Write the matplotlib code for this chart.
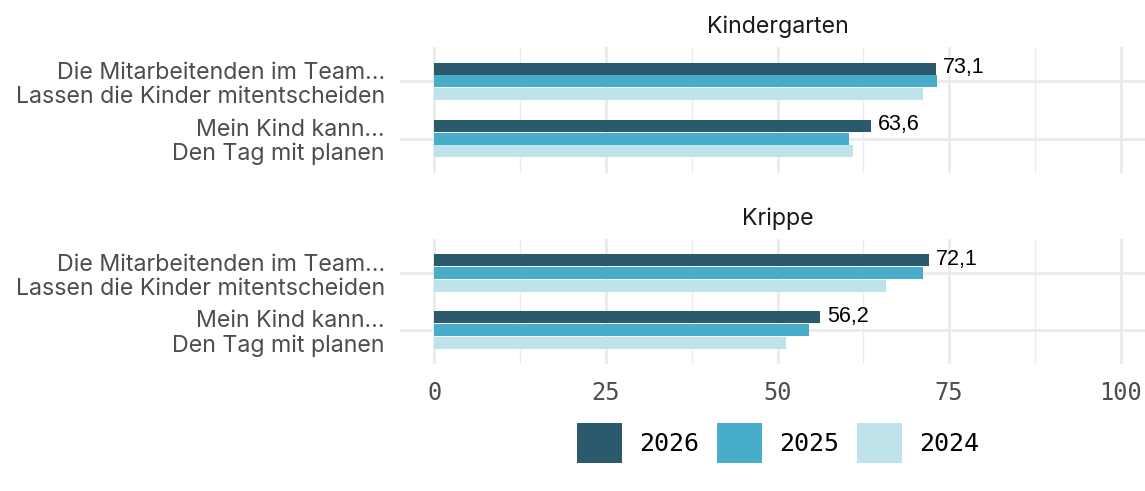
import matplotlib
matplotlib.use('Agg')
import matplotlib.pyplot as plt
from matplotlib.patches import Patch
import numpy as np

# Data
panels = ['Kindergarten', 'Krippe']
questions = ['Die Mitarbeitenden im Team…\nLassen die Kinder mitentscheiden',
             'Mein Kind kann…\nDen Tag mit planen']
years = ['2026', '2025', '2024']
values = {
    'Kindergarten': {'2026': [73.1, 63.6], '2025': [73.3, 60.4], '2024': [71.2, 61.0]},
    'Krippe':       {'2026': [72.1, 56.2], '2025': [71.2, 54.6], '2024': [65.8, 51.2]},
}
colors = {'2026': '#2B5A6D', '2025': '#48ACCB', '2024': '#BEE3EA'}
xticks = [0, 25, 50, 75, 100]

W, H = 1145, 491
fig = plt.figure(figsize=(W / 100, H / 100), dpi=100)

grid_col = '#EBEBEB'
label_font = 'Inter'
mono_font = 'DejaVu Sans Mono'

# panel boxes in pixels: (top, bottom)
boxes = [(47, 173), (239, 364)]
left_px, right_px = 400, 1155

ypos = np.array([1, 0])  # first question on top
bar_h = 0.212
step = 0.223
offsets = {'2026': step, '2025': 0.0, '2024': -step}

for panel, (top, bot) in zip(panels, boxes):
    ax = fig.add_axes([left_px / W, (H - bot) / H, (right_px - left_px) / W, (bot - top) / H])
    for yr in years:
        ax.barh(ypos + offsets[yr], values[panel][yr], height=bar_h,
                color=colors[yr], linewidth=0, zorder=3)
    # labels for the newest year
    for y, v in zip(ypos, values[panel]['2026']):
        ax.text(v + 1.0, y + offsets['2026'] + 0.02, f'{v:.1f}'.replace('.', ','),
                ha='left', va='center', fontsize=15.5, family='Liberation Sans',
                color='black', zorder=4)
    ax.set_xlim(-5, 105)
    ax.set_ylim(-0.6, 1.6)
    ax.set_xticks(xticks)
    ax.set_xticks([12.5, 37.5, 62.5, 87.5], minor=True)
    ax.set_yticks(ypos)
    ax.set_yticklabels(questions, family=label_font, fontsize=16.7,
                       color='#4D4D4D', linespacing=1.12)
    ax.grid(True, which='major', color=grid_col, linewidth=2.0, zorder=0)
    ax.grid(True, which='minor', axis='x', color=grid_col, linewidth=1.0, zorder=0)
    ax.tick_params(axis='y', length=0, pad=11)
    ax.tick_params(axis='x', which='both', length=0, pad=12.5)
    for s in ax.spines.values():
        s.set_visible(False)
    ax.set_title(panel, family=label_font, fontsize=16.7, color='#1A1A1A', pad=10)
    if panel == panels[-1]:
        ax.set_xticklabels([str(t) for t in xticks], family=mono_font,
                           fontsize=17, color='#4D4D4D')
    else:
        ax.set_xticklabels([])

handles = [Patch(facecolor=colors[y], edgecolor='none', label=y) for y in years]
fig.legend(handles=handles, loc='center', bbox_to_anchor=(778 / W, 1 - 443 / H),
           ncol=3, frameon=False, prop={'family': mono_font, 'size': 18},
           handlelength=1.8, handleheight=2.1, handletextpad=0.68,
           columnspacing=0.72, borderaxespad=0)

fig.savefig('out.png', dpi=100)
